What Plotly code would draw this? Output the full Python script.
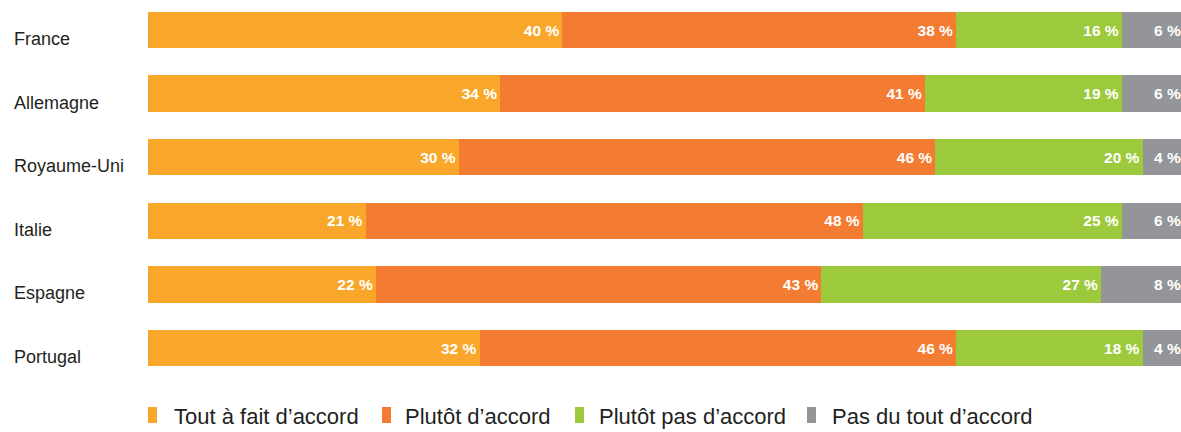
import plotly.graph_objects as go

countries = ["France", "Allemagne", "Royaume-Uni", "Italie", "Espagne", "Portugal"]
series_names = ["Tout à fait d’accord", "Plutôt d’accord", "Plutôt pas d’accord", "Pas du tout d’accord"]
tout_a_fait = [40, 34, 30, 21, 22, 32]
plutot = [38, 41, 46, 48, 43, 46]
plutot_pas = [16, 19, 20, 25, 27, 18]
pas_du_tout = [6, 6, 4, 6, 8, 4]
series_values = [tout_a_fait, plutot, plutot_pas, pas_du_tout]
colors = ["#F9A72B", "#F47B32", "#9DCA3C", "#939598"]

W, H = 1181, 432
ML, MR, MT, MB = 148, 0, 0, 42
PW = W - ML - MR
PH = H - MT - MB

FONT = "Liberation Sans, Arial, sans-serif"

fig = go.Figure()
for name, vals, col in zip(series_names, series_values, colors):
    fig.add_trace(go.Bar(
        y=countries, x=vals, name=name, orientation="h",
        marker=dict(color=col, line=dict(width=0)),
        width=0.574,
        text=[f"{v} %" for v in vals],
        textposition="inside", insidetextanchor="end", textangle=0,
        constraintext="none",
        textfont=dict(family=FONT, size=15.5, color="white", weight="bold"),
        hoverinfo="skip", showlegend=False,
    ))

def px_to_paper_x(px):
    return (px - ML) / PW

def px_to_paper_y(py):
    return (MT + PH - py) / PH

annotations = []
for c in countries:
    annotations.append(dict(
        xref="paper", yref="y", x=px_to_paper_x(12), y=c, xanchor="left", yanchor="middle",
        text=c, showarrow=False, yshift=-9,
        font=dict(family=FONT, size=18, color="#231F20"),
    ))

shapes = []
sq_x = [148, 382, 575, 807]
txt_x = [172, 403, 597, 830]
for name, col, sx, tx in zip(series_names, colors, sq_x, txt_x):
    shapes.append(dict(
        type="rect", xref="paper", yref="paper",
        x0=px_to_paper_x(sx), x1=px_to_paper_x(sx + 9),
        y0=px_to_paper_y(423), y1=px_to_paper_y(407),
        fillcolor=col, line=dict(width=0),
    ))
    annotations.append(dict(
        xref="paper", yref="paper", x=px_to_paper_x(tx), y=px_to_paper_y(416),
        xanchor="left", yanchor="middle", text=name, showarrow=False,
        font=dict(family=FONT, size=22, color="#231F20"),
    ))

fig.update_layout(
    width=W, height=H,
    margin=dict(l=ML, r=MR, t=MT, b=MB, pad=0),
    barmode="stack",
    plot_bgcolor="white", paper_bgcolor="white",
    xaxis=dict(range=[0, 100 * PW / 1036], visible=False, fixedrange=True),
    yaxis=dict(range=[5.66, -0.472], visible=False, type="category",
               categoryorder="array", categoryarray=countries, fixedrange=True),
    annotations=annotations, shapes=shapes,
    showlegend=False,
)

fig.write_html("out.html", config={"displayModeBar": False},
               post_script="document.body.style.margin='0';document.body.style.padding='0';")
